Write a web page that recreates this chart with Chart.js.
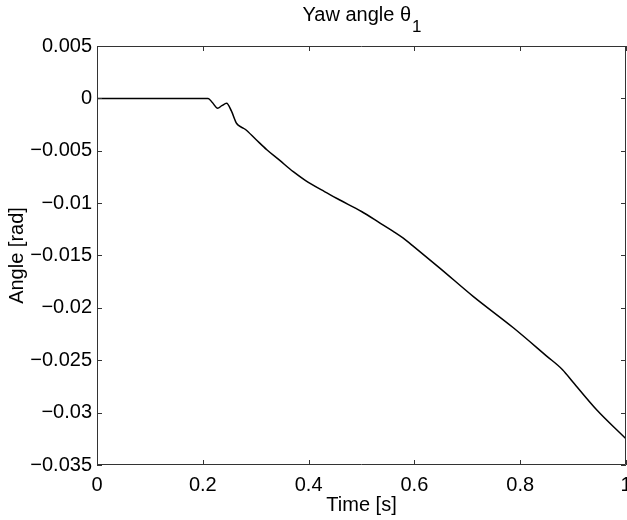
<!DOCTYPE html>
<html lang="en">
<head>
    <meta charset="UTF-8">
    <title>Yaw angle</title>
    <script src="https://cdn.jsdelivr.net/npm/chart.js"></script>
    <style>
        html, body { margin: 0; padding: 0; background: #fff; }
        #wrap { width: 627px; height: 520px; }
    </style>
</head>
<body>
    <div id="wrap"><canvas id="yawChart"></canvas></div>

    <script>
        // time samples [s] and yaw angle [rad]
        const timeS = [0, 0.21, 0.218, 0.228, 0.236, 0.245, 0.254, 0.264, 0.2735, 0.28, 0.30, 0.321, 0.345,
            0.371, 0.393, 0.43, 0.459, 0.50, 0.535, 0.56, 0.579, 0.60, 0.648, 0.711, 0.787, 0.85,
            0.88, 0.90, 0.944, 1.0];
        const yawRad = [0, 0, -0.0004, -0.00094, -0.0007, -0.00047, -0.0012, -0.0024, -0.00276, -0.00295,
            -0.0039, -0.0049, -0.0059, -0.0070, -0.0078, -0.0089, -0.0097, -0.0108, -0.0119, -0.0127,
            -0.01335, -0.0142, -0.0162, -0.0189, -0.0219, -0.0246, -0.0259, -0.0271, -0.0297, -0.0325];

        const timeTicks = [0, 0.2, 0.4, 0.6, 0.8, 1];
        const angleTicks = [0.005, 0, -0.005, -0.01, -0.015, -0.02, -0.025, -0.03, -0.035];

        const FONT = 'Liberation Sans, Arial, Helvetica, sans-serif';
        const AXIS_COLOR = '#333';

        function fmt(v) {
            const s = String(+v.toFixed(4));
            return s.replace('-', '\u2212');
        }

        // matlab style box with inward ticks on all four sides
        const boxPlugin = {
            id: 'box',
            afterDatasetsDraw(chart) {
                const { ctx, chartArea: a, scales } = chart;
                const len = 5;
                ctx.save();
                ctx.strokeStyle = AXIS_COLOR;
                ctx.lineWidth = 1;
                ctx.beginPath();
                ctx.rect(a.left + 0.5, a.top + 0.5, a.right - a.left - 1, a.bottom - a.top - 1);
                timeTicks.forEach(t => {
                    const x = Math.round(scales.x.getPixelForValue(t)) + 0.5;
                    ctx.moveTo(x, a.bottom); ctx.lineTo(x, a.bottom - len);
                    ctx.moveTo(x, a.top); ctx.lineTo(x, a.top + len);
                });
                angleTicks.forEach(v => {
                    const y = Math.round(scales.y.getPixelForValue(v)) + 0.5;
                    ctx.moveTo(a.left, y); ctx.lineTo(a.left + len, y);
                    ctx.moveTo(a.right, y); ctx.lineTo(a.right - len, y);
                });
                ctx.stroke();
                ctx.restore();
            }
        };

        // title with subscripted theta index
        const titlePlugin = {
            id: 'subTitle',
            afterDraw(chart) {
                const { ctx, chartArea: a } = chart;
                const main = 'Yaw angle \u03B8';
                const sub = '1';
                ctx.save();
                ctx.fillStyle = '#000';
                ctx.textBaseline = 'alphabetic';
                ctx.font = '20px ' + FONT;
                const wMain = ctx.measureText(main).width;
                ctx.font = '17px ' + FONT;
                const wSub = ctx.measureText(sub).width;
                const x0 = (a.left + a.right) / 2 - (wMain + wSub) / 2;
                ctx.font = '20px ' + FONT;
                ctx.fillText(main, x0, 21);
                ctx.font = '17px ' + FONT;
                ctx.fillText(sub, x0 + wMain + 1, 32);
                ctx.restore();
            }
        };

        const ctx = document.getElementById('yawChart').getContext('2d');
        const yawChart = new Chart(ctx, {
            type: 'line',
            data: {
                datasets: [{
                    label: 'theta1',
                    data: timeS.map((t, i) => ({ x: t, y: yawRad[i] })),
                    borderColor: '#000',
                    borderWidth: 1.5,
                    pointRadius: 0,
                    fill: false,
                    cubicInterpolationMode: 'monotone'
                }]
            },
            options: {
                responsive: true,
                maintainAspectRatio: false,
                animation: false,
                layout: { padding: { top: 46, right: 1, left: 0, bottom: 0 } },
                plugins: {
                    legend: { display: false },
                    tooltip: { enabled: false }
                },
                scales: {
                    x: {
                        type: 'linear',
                        min: 0,
                        max: 1,
                        grid: { display: false, drawTicks: false },
                        border: { display: false },
                        afterBuildTicks: s => { s.ticks = timeTicks.map(v => ({ value: v })); },
                        afterFit: s => { s.height = 55; s.paddingLeft = 0; s.paddingRight = 0; },
                        ticks: {
                            color: '#000',
                            font: { family: FONT, size: 20 },
                            padding: 8,
                            maxRotation: 0,
                            autoSkip: false,
                            callback: v => fmt(v)
                        },
                        title: {
                            display: true,
                            text: 'Time [s]',
                            color: '#000',
                            font: { family: FONT, size: 20 },
                            padding: { top: 0, bottom: 3 }
                        }
                    },
                    y: {
                        type: 'linear',
                        min: -0.035,
                        max: 0.005,
                        grid: { display: false, drawTicks: false },
                        border: { display: false },
                        afterBuildTicks: s => { s.ticks = angleTicks.map(v => ({ value: v })); },
                        afterFit: s => { s.width = 97; s.paddingTop = 0; s.paddingBottom = 0; },
                        ticks: {
                            color: '#000',
                            font: { family: FONT, size: 20 },
                            padding: 5,
                            autoSkip: false,
                            callback: v => fmt(v)
                        },
                        title: {
                            display: true,
                            text: 'Angle [rad]',
                            color: '#000',
                            font: { family: FONT, size: 20 },
                            padding: { top: 5, bottom: 0 }
                        }
                    }
                }
            },
            plugins: [boxPlugin, titlePlugin]
        });
    </script>
</body>
</html>
